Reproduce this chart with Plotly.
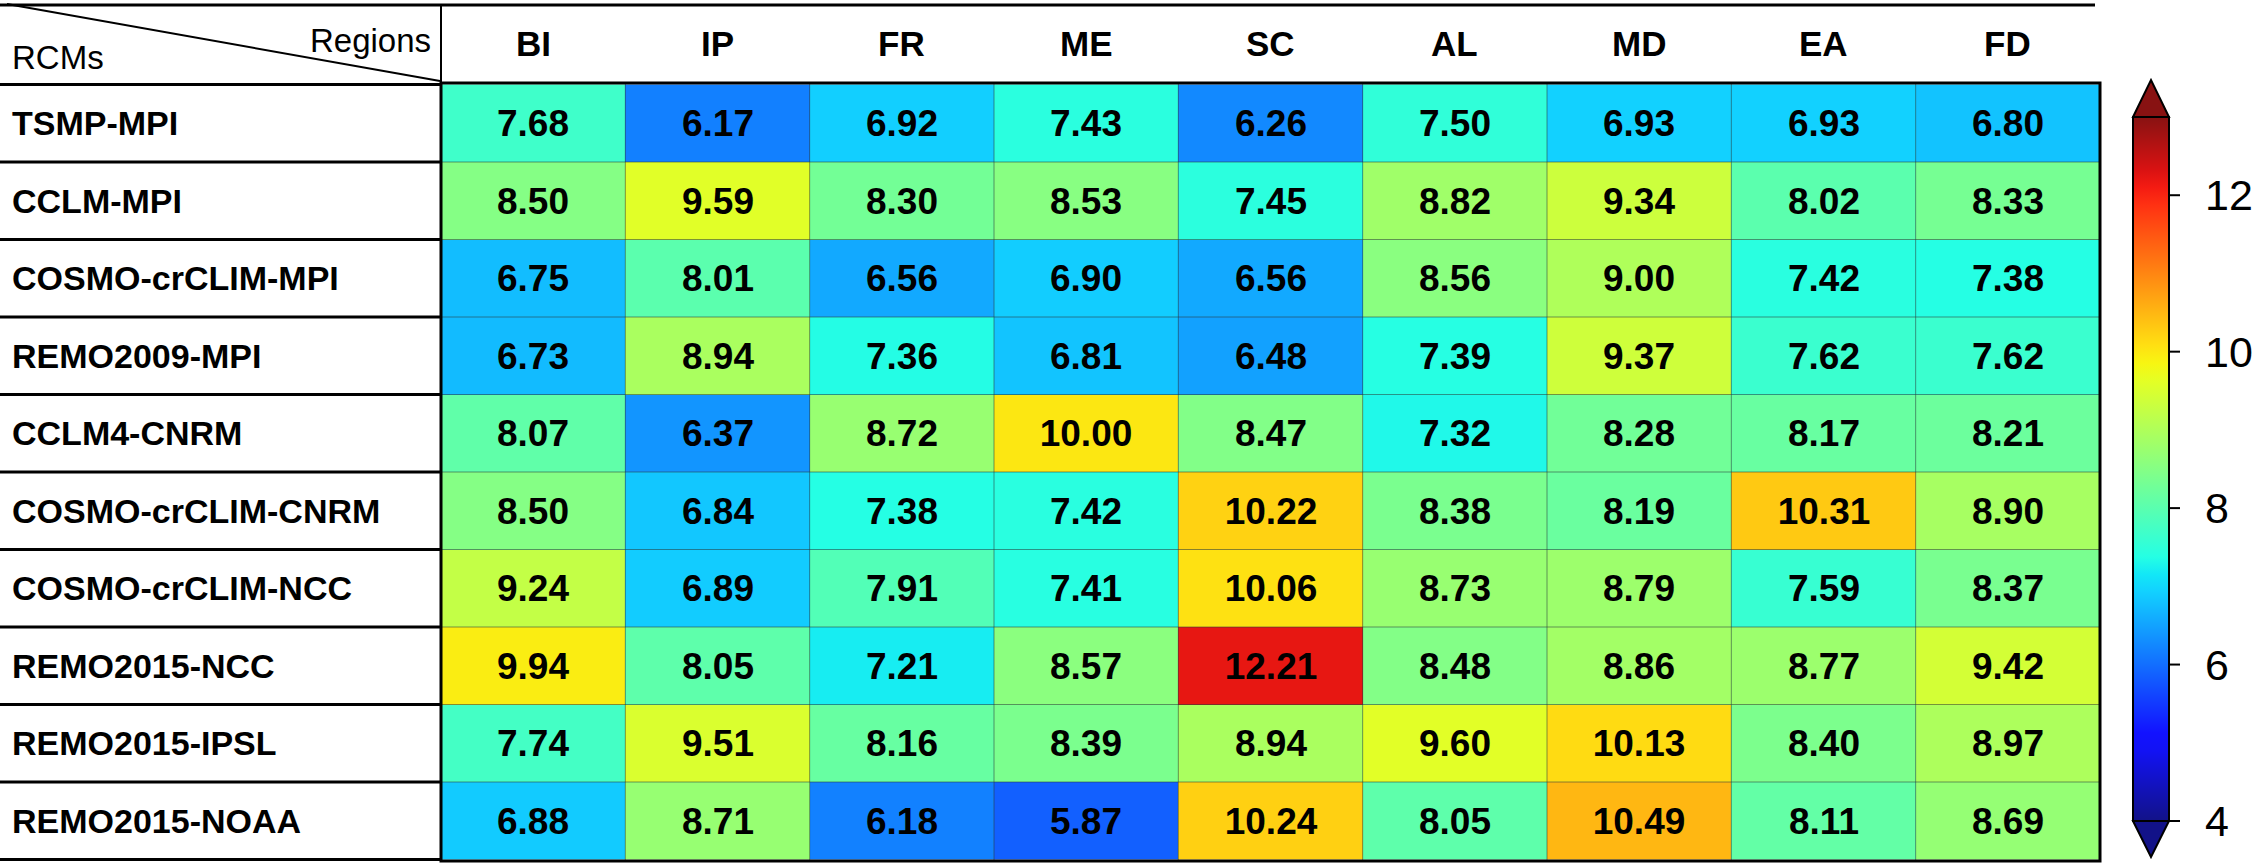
import numpy as np
import plotly.graph_objects as go

# ---------------- data ----------------
regions = ["BI", "IP", "FR", "ME", "SC", "AL", "MD", "EA", "FD"]
rcms = ["TSMP-MPI", "CCLM-MPI", "COSMO-crCLIM-MPI", "REMO2009-MPI", "CCLM4-CNRM",
        "COSMO-crCLIM-CNRM", "COSMO-crCLIM-NCC", "REMO2015-NCC", "REMO2015-IPSL",
        "REMO2015-NOAA"]
tsmp_mpi = [7.68, 6.17, 6.92, 7.43, 6.26, 7.50, 6.93, 6.93, 6.80]
cclm_mpi = [8.50, 9.59, 8.30, 8.53, 7.45, 8.82, 9.34, 8.02, 8.33]
cosmo_mpi = [6.75, 8.01, 6.56, 6.90, 6.56, 8.56, 9.00, 7.42, 7.38]
remo2009_mpi = [6.73, 8.94, 7.36, 6.81, 6.48, 7.39, 9.37, 7.62, 7.62]
cclm4_cnrm = [8.07, 6.37, 8.72, 10.00, 8.47, 7.32, 8.28, 8.17, 8.21]
cosmo_cnrm = [8.50, 6.84, 7.38, 7.42, 10.22, 8.38, 8.19, 10.31, 8.90]
cosmo_ncc = [9.24, 6.89, 7.91, 7.41, 10.06, 8.73, 8.79, 7.59, 8.37]
remo2015_ncc = [9.94, 8.05, 7.21, 8.57, 12.21, 8.48, 8.86, 8.77, 9.42]
remo2015_ipsl = [7.74, 9.51, 8.16, 8.39, 8.94, 9.60, 10.13, 8.40, 8.97]
remo2015_noaa = [6.88, 8.71, 6.18, 5.87, 10.24, 8.05, 10.49, 8.11, 8.69]
values = [tsmp_mpi, cclm_mpi, cosmo_mpi, remo2009_mpi, cclm4_cnrm, cosmo_cnrm,
          cosmo_ncc, remo2015_ncc, remo2015_ipsl, remo2015_noaa]
cbar_ticks = [4, 6, 8, 10, 12]
zmin, zmax = 4, 13

# ---------------- layout constants ----------------
W, H = 2258, 868
FONT = "Liberation Sans, Arial, Helvetica, sans-serif"
HM_L, HM_R, HM_T, HM_B = 441, 2100, 83, 861
CB_L, CB_W, CB_T, CB_B = 2133, 36, 117, 821


def px(x):
    return x / W


def py(y):
    return 1 - y / H


# matplotlib "jet" colormap, lightly blended with white
def jet(t):
    r = np.interp(t, [0, 0.35, 0.66, 0.89, 1], [0, 0, 1, 1, 0.5])
    g = np.interp(t, [0, 0.125, 0.375, 0.64, 0.91, 1], [0, 0, 1, 1, 0, 0])
    b = np.interp(t, [0, 0.11, 0.34, 0.65, 1], [0.5, 1, 1, 0, 0])
    return r, g, b


def blend(c, a=0.07):
    return int(round((c * (1 - a) + a) * 255))


stops = np.linspace(0, 1, 41)
colorscale = []
for t in stops:
    r, g, b = jet(t)
    colorscale.append([float(t), f"rgb({blend(r)},{blend(g)},{blend(b)})"])

fig = go.Figure()
fig.add_trace(go.Heatmap(
    z=values, x=regions, y=rcms,
    colorscale=colorscale, zmin=zmin, zmax=zmax,
    texttemplate="%{z:.2f}",
    textfont=dict(family=FONT, size=37, color="black", weight="bold"),
    hoverinfo="skip",
    colorbar=dict(
        x=px(CB_L), xanchor="left", xpad=0,
        y=py((CB_T + CB_B) / 2), yanchor="middle", ypad=0,
        len=CB_B - CB_T, lenmode="pixels",
        thickness=CB_W, thicknessmode="pixels",
        outlinewidth=2, outlinecolor="black",
        tickvals=cbar_ticks, ticks="outside", ticklen=27, tickwidth=2,
        tickcolor="rgba(0,0,0,0)",
        tickfont=dict(family=FONT, size=43, color="black"),
    ),
))

shapes = []
nrow, ncol = len(rcms), len(regions)
# thin cell grid lines
for i in range(ncol - 1):
    shapes.append(dict(type="line", xref="x", yref="paper", x0=i + 0.5, x1=i + 0.5,
                       y0=py(HM_B), y1=py(HM_T),
                       line=dict(color="rgba(40,60,60,0.55)", width=1)))
for j in range(nrow - 1):
    shapes.append(dict(type="line", xref="paper", yref="y", x0=px(HM_L), x1=px(HM_R),
                       y0=j + 0.5, y1=j + 0.5,
                       line=dict(color="rgba(40,60,60,0.55)", width=1)))
# heatmap border
shapes.append(dict(type="rect", xref="paper", yref="paper", x0=px(HM_L), x1=px(HM_R),
                   y0=py(HM_B), y1=py(HM_T), line=dict(color="black", width=3)))
# row separators in the label column
for j in range(nrow + 1):
    shapes.append(dict(type="line", xref="paper", yref="y", x0=0, x1=px(HM_L),
                       y0=j - 0.5, y1=j - 0.5, line=dict(color="black", width=3)))
# header lines
shapes.append(dict(type="line", xref="paper", yref="paper", x0=0, x1=px(2095),
                   y0=py(5), y1=py(5), line=dict(color="black", width=3)))
shapes.append(dict(type="line", xref="paper", yref="paper", x0=px(HM_L), x1=px(HM_L),
                   y0=py(5), y1=py(HM_T), line=dict(color="black", width=2)))
shapes.append(dict(type="line", xref="paper", yref="paper", x0=px(7), x1=px(440),
                   y0=py(4), y1=py(81), line=dict(color="black", width=2)))
# colorbar extension triangles
cx = CB_L + CB_W / 2
r0, g0, b0 = jet(0.0)
r1, g1, b1 = jet(1.0)
shapes.append(dict(type="path", xref="paper", yref="paper",
                   path=f"M {px(CB_L)},{py(CB_T)} L {px(cx)},{py(CB_T - 37)} L {px(CB_L + CB_W)},{py(CB_T)} Z",
                   fillcolor=f"rgb({blend(r1)},{blend(g1)},{blend(b1)})",
                   line=dict(color="black", width=2)))
shapes.append(dict(type="path", xref="paper", yref="paper",
                   path=f"M {px(CB_L)},{py(CB_B)} L {px(cx)},{py(CB_B + 36)} L {px(CB_L + CB_W)},{py(CB_B)} Z",
                   fillcolor=f"rgb({blend(r0)},{blend(g0)},{blend(b0)})",
                   line=dict(color="black", width=2)))
# short visible colorbar tick marks (the colorbar's own ticks are long & transparent
# so that the labels sit further from the bar)
for v in cbar_ticks:
    yv = CB_B - (v - zmin) / (zmax - zmin) * (CB_B - CB_T)
    shapes.append(dict(type="line", xref="paper", yref="paper",
                       x0=px(CB_L + CB_W), x1=px(CB_L + CB_W + 11), y0=py(yv), y1=py(yv),
                       line=dict(color="black", width=2)))

annotations = []
for i, reg in enumerate(regions):
    annotations.append(dict(x=reg, xref="x", y=py(43), yref="paper", text=f"<b>{reg}</b>",
                            showarrow=False, xanchor="center", yanchor="middle",
                            font=dict(family=FONT, size=35, color="black")))
for j, name in enumerate(rcms):
    annotations.append(dict(x=px(10), xref="paper", y=name, yref="y", text=f"<b>{name}</b>",
                            showarrow=False, xanchor="left", yanchor="middle",
                            font=dict(family=FONT, size=34, color="black")))
annotations.append(dict(x=px(10), xref="paper", y=py(58), yref="paper", text="RCMs",
                        showarrow=False, xanchor="left", yanchor="middle",
                        font=dict(family=FONT, size=33, color="black")))
annotations.append(dict(x=px(433), xref="paper", y=py(40), yref="paper", text="Regions",
                        showarrow=False, xanchor="right", yanchor="middle",
                        font=dict(family=FONT, size=33, color="black")))

fig.update_layout(
    width=W, height=H,
    margin=dict(l=0, r=0, t=0, b=0),
    paper_bgcolor="white", plot_bgcolor="white",
    xaxis=dict(domain=[px(HM_L), px(HM_R)], showticklabels=False, showgrid=False,
               zeroline=False, ticks="", fixedrange=True),
    yaxis=dict(domain=[py(HM_B), py(HM_T)], showticklabels=False, showgrid=False,
               zeroline=False, ticks="", autorange="reversed", fixedrange=True),
    shapes=shapes, annotations=annotations, showlegend=False,
)

fig.write_html("out.html", config={"displayModeBar": False},
               post_script="document.body.style.margin='0';document.body.style.overflow='hidden';")
